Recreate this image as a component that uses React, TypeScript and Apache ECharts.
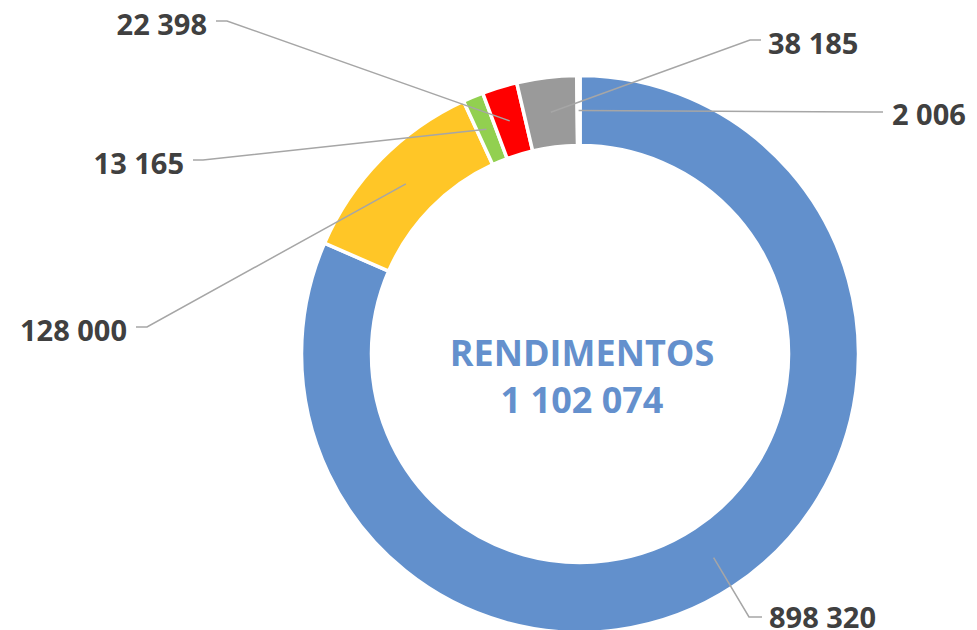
import React, { useEffect, useRef } from 'react';
import * as echarts from 'echarts';

const categories = ['Categoria 1', 'Categoria 2', 'Categoria 3', 'Categoria 4', 'Categoria 5', 'Categoria 6'];
const values = [898320, 128000, 13165, 22398, 38185, 2006];
const colors = ['#6290CC', '#FFC627', '#92D050', '#FF0000', '#9A9A9A', '#FFFFFF'];
const centerTitle = 'RENDIMENTOS';

const CX = 580;
const CY = 354;
const R_IN = 208.5;
const R_OUT = 278.5;
const R_MID = 243.5;

// label placement (text anchor, leader elbow and end)
const labelSpots = [
  { align: 'left', x: 769, y: 616, bend: [749, 617], end: [762, 617] },
  { align: 'right', x: 127, y: 329, bend: [147, 327], end: [136, 327] },
  { align: 'right', x: 184, y: 162, bend: [203, 160], end: [193, 160] },
  { align: 'right', x: 207, y: 23, bend: [227, 21], end: [216, 21] },
  { align: 'left', x: 768, y: 42, bend: [750, 40], end: [761, 40] },
  { align: 'left', x: 892, y: 113, bend: [872, 112], end: [883, 112] },
];

const fmt = (n: number) => String(n).replace(/\B(?=(\d{3})+(?!\d))/g, ' ');

export default function App() {
  const ref = useRef<HTMLDivElement>(null);
  useEffect(() => {
    document.body.style.margin = '0';
    if (!ref.current) return;
    const chart = echarts.init(ref.current, null, { renderer: 'svg' });
    const total = values.reduce((a, b) => a + b, 0);
    const cum: number[] = [];
    let acc = 0;
    values.forEach((v) => {
      cum.push(acc);
      acc += v;
    });
    const midPoint = (i: number) => {
      const th = ((cum[i] + values[i] / 2) / total) * Math.PI * 2;
      return [CX + R_MID * Math.sin(th), CY - R_MID * Math.cos(th)];
    };
    const font = '"Open Sans", "DejaVu Sans", sans-serif';
    const leaders = values.map((_, i) => ({
      type: 'polyline',
      z: 100,
      silent: true,
      shape: { points: [midPoint(i), labelSpots[i].bend, labelSpots[i].end] },
      style: { stroke: '#A6A6A6', lineWidth: 1.5, fill: null },
    }));
    chart.setOption({
      animation: false,
      graphic: [
        {
          type: 'text',
          x: CX + 2,
          y: 352,
          style: {
            text: centerTitle,
            fill: '#6490CD',
            font: `bold 36px ${font}`,
            textAlign: 'center',
            textVerticalAlign: 'middle',
          },
        },
        {
          type: 'text',
          x: CX + 2,
          y: 399,
          style: {
            text: fmt(total),
            fill: '#6490CD',
            font: `bold 36px ${font}`,
            textAlign: 'center',
            textVerticalAlign: 'middle',
          },
        },
        ...leaders,
      ],
      series: [
        {
          type: 'pie',
          center: [CX, CY],
          radius: [R_IN, R_OUT],
          startAngle: 90,
          clockwise: true,
          avoidLabelOverlap: false,
          emphasis: { disabled: true },
          itemStyle: { borderColor: '#ffffff', borderWidth: 3.5 },
          label: {
            show: true,
            position: 'outside',
            formatter: (p: any) => fmt(p.value),
            color: '#404040',
            fontSize: 29,
            lineHeight: 26,
            fontWeight: 'bold',
            fontFamily: font,
          },
          labelLine: { show: false },
          labelLayout: (params: any) => {
            const s = labelSpots[params.dataIndex];
            return { x: s.x, y: s.y, align: s.align, verticalAlign: 'middle' };
          },
          data: values.map((v, i) => ({
            name: categories[i],
            value: v,
            itemStyle: { color: colors[i] },
          })),
        },
      ],
    });
    return () => chart.dispose();
  }, []);
  return <div ref={ref} style={{ width: 977, height: 630 }} />;
}
